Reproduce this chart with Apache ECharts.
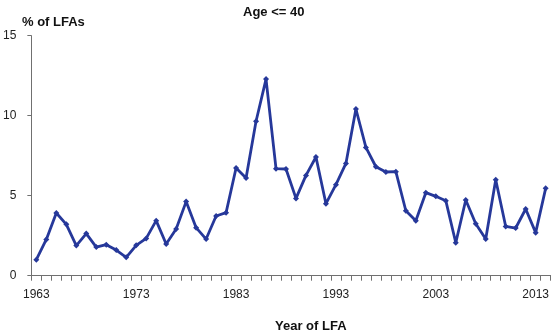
<!DOCTYPE html>
<html>
<head>
<meta charset="utf-8">
<script src="https://cdn.jsdelivr.net/npm/echarts@6/dist/echarts.min.js"></script>
<style>html,body{margin:0;padding:0;background:#fff}#c{width:552px;height:332px}</style>
</head>
<body>
<div id="c"></div>
<script>
const years = [];
for (let y = 1963; y <= 2014; y++) years.push(String(y));
const pctLFA = [
  1.0, 2.27, 3.92, 3.21, 1.88, 2.63, 1.79, 1.94, 1.6, 1.15,
  1.9, 2.33, 3.44, 1.98, 2.92, 4.63, 3.0, 2.29, 3.73, 3.94,
  6.73, 6.1, 9.65, 12.29, 6.69, 6.67, 4.83, 6.27, 7.42, 4.5,
  5.69, 7.02, 10.42, 8.02, 6.81, 6.48, 6.5, 4.06, 3.44, 5.19,
  4.96, 4.69, 2.06, 4.73, 3.25, 2.29, 6.0, 3.08, 2.98, 4.17,
  2.69, 5.46
];
const yTicks = [0, 5, 10, 15];
const titleText = 'Age <= 40';
const yName = '% of LFAs';
const xName = 'Year of LFA';

const FONT = '"Liberation Sans", Arial, sans-serif';
const chart = echarts.init(document.getElementById('c'), null, {renderer: 'canvas'});
chart.setOption({
  animation: false,
  backgroundColor: '#ffffff',
  title: [
    {text: titleText, left: 238, top: 1, textStyle: {fontFamily: FONT, fontSize: 13, fontWeight: 'bold', color: '#111'}},
    {text: yName, left: 17, top: 11, textStyle: {fontFamily: FONT, fontSize: 13, fontWeight: 'bold', color: '#111'}},
    {text: xName, left: 270, top: 315, textStyle: {fontFamily: FONT, fontSize: 13, fontWeight: 'bold', color: '#111'}}
  ],
  grid: {left: 30.7, right: 1.3, top: 35.7, bottom: 56.3, containLabel: false},
  xAxis: {
    type: 'category',
    data: years,
    boundaryGap: true,
    axisLine: {lineStyle: {color: '#707070', width: 1}},
    axisTick: {show: true, interval: 0, length: 5, inside: false, lineStyle: {color: '#707070'}},
    axisLabel: {interval: 9, margin: 13, fontFamily: FONT, fontSize: 12, color: '#222'},
    splitLine: {show: false}
  },
  yAxis: {
    type: 'value',
    min: yTicks[0],
    max: yTicks[yTicks.length - 1],
    interval: 5,
    axisLine: {show: true, lineStyle: {color: '#707070', width: 1}},
    axisTick: {show: true, length: 4, lineStyle: {color: '#707070'}},
    axisLabel: {margin: 15, fontFamily: FONT, fontSize: 12, color: '#222'},
    splitLine: {show: false}
  },
  series: [{
    type: 'line',
    data: pctLFA,
    symbol: 'diamond',
    symbolSize: 6,
    showAllSymbol: true,
    lineStyle: {color: '#26389a', width: 2.8},
    itemStyle: {color: '#26389a'}
  }]
});
</script>
</body>
</html>
